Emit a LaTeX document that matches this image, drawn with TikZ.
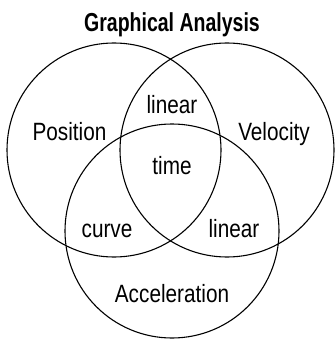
\documentclass[tikz,border=0pt]{standalone}
\usepackage{fontspec}
\setmainfont[FakeStretch=0.83]{Liberation Sans}
\newfontfamily\titlefont[FakeStretch=0.75]{Liberation Sans}
\begin{document}
\begin{tikzpicture}[x=1pt,y=-1pt]
\tikzset{
  venn/.style={draw=black,line width=1.1pt},
  lbl/.style={anchor=base,inner sep=0pt,font=\fontsize{25}{25}\selectfont},
  ttl/.style={anchor=base,inner sep=0pt,font=\titlefont\bfseries\fontsize{26}{26}\selectfont}
}
\useasboundingbox (0,0) rectangle (336,339);
\draw[venn] (114,150) circle (107);
\draw[venn] (227,150) circle (107);
\draw[venn] (172,231) circle (107);
\node[ttl] (title) at (172,31.5) {Graphical Analysis};
\node[lbl] (pos) at (69.5,140) {Position};
\node[lbl] (vel) at (274,140) {Velocity};
\node[lbl] (lin1) at (172,113.3) {linear};
\node[lbl] (time) at (172,174) {time};
\node[lbl] (curve) at (107,237.3) {curve};
\node[lbl] (lin2) at (234,237.3) {linear};
\node[lbl] (acc) at (172,302.7) {Acceleration};
\end{tikzpicture}
\end{document}
